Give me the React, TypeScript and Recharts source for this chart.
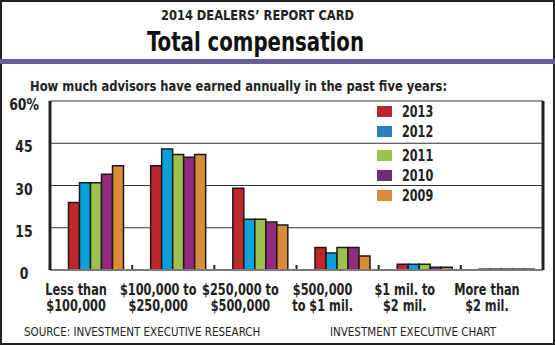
import { BarChart, Bar, XAxis, YAxis, CartesianGrid } from 'recharts'

const FONT = "'Liberation Sans Narrow', 'DejaVu Sans Condensed', 'Arial Narrow', sans-serif"

const categories = [
  'Less than\n$100,000',
  '$100,000 to\n$250,000',
  '$250,000 to\n$500,000',
  '$500,000\nto $1 mil.',
  '$1 mil. to\n$2 mil.',
  'More than\n$2 mil.',
]
const years = ['2013', '2012', '2011', '2010', '2009']
const v2013 = [24, 37, 29, 8, 2, 0.3]
const v2012 = [31, 43, 18, 6, 2, 0.3]
const v2011 = [31, 41, 18, 8, 2, 0.3]
const v2010 = [34, 40, 17, 8, 1, 0.3]
const v2009 = [37, 41, 16, 5, 1, 0.3]
const yTicks = [0, 15, 30, 45, 60]

const barColors = ['#c0272d', '#0ba0dc', '#9bc24c', '#922a80', '#d98b38']
const legendColors = ['#b8282f', '#2a80c0', '#9cc24e', '#6e2c7a', '#d88b3a']

const series = [v2013, v2012, v2011, v2010, v2009]
const data = categories.map((label, i) => {
  const row: Record<string, string | number> = { label }
  years.forEach((y, k) => {
    row[y] = series[k][i]
  })
  return row
})

// squeezed text: the original uses a condensed face we don't have
function NText({
  x,
  y,
  s = 0.85,
  anchor = 'start',
  size = 15,
  bold = true,
  children,
}: {
  x: number
  y: number
  s?: number
  anchor?: 'start' | 'middle' | 'end'
  size?: number
  bold?: boolean
  children: React.ReactNode
}) {
  return (
    <text
      transform={`translate(${x},${y}) scale(${s},1)`}
      textAnchor={anchor}
      fontFamily={FONT}
      fontWeight={bold ? 'bold' : 'normal'}
      fontSize={size}
      fill="#222"
    >
      {children}
    </text>
  )
}

// eslint-disable-next-line @typescript-eslint/no-explicit-any
function XTick({ x, y, payload }: any) {
  const lines = String(payload.value).split('\n')
  const idx = payload.index ?? categories.indexOf(payload.value)
  const half = payload.offset ?? 41
  return (
    <g>
      {idx < categories.length - 1 && (
        <rect x={x + half - 1} y={y - 5} width={2} height={4} fill="#222" />
      )}
      {lines.map((l, i) => (
        <NText key={i} x={x - 15} y={y + 25 + i * 16} anchor="middle" s={0.84}>
          {l}
        </NText>
      ))}
    </g>
  )
}

// eslint-disable-next-line @typescript-eslint/no-explicit-any
function YTick({ x, y, payload }: any) {
  return (
    <NText x={x - 26} y={y + 9} anchor="middle" s={0.92}>
      {payload.value === 60 ? '60%' : payload.value}
    </NText>
  )
}

export default function App() {
  return (
    <div style={{ position: 'absolute', left: 0, top: 0, width: 555, height: 345, background: '#fff' }}>
      <BarChart
        width={555}
        height={345}
        data={data}
        margin={{ top: 101, right: 0, left: 0, bottom: 25 }}
        barCategoryGap={7.5}
        barGap={0}
      >
        <CartesianGrid yAxisId="left" vertical={false} stroke="#333" strokeWidth={1.2} />
        <XAxis
          dataKey="label"
          interval={0}
          height={50}
          tickSize={0}
          tickMargin={0}
          tickLine={false}
          axisLine={{ stroke: '#7a7a7a', strokeWidth: 2 }}
          tick={<XTick />}
        />
        <YAxis
          yAxisId="left"
          domain={[0, 60]}
          ticks={yTicks}
          width={50}
          tickSize={0}
          tickMargin={0}
          tickLine={false}
          axisLine={{ stroke: '#222', strokeWidth: 3 }}
          tick={<YTick />}
        />
        <YAxis
          yAxisId="right"
          orientation="right"
          domain={[0, 60]}
          ticks={yTicks}
          width={12}
          tick={false}
          tickLine={false}
          axisLine={{ stroke: '#222', strokeWidth: 3 }}
        />
        {/* empty slot so the bars sit right of centre, as in the original */}
        <Bar yAxisId="left" dataKey="spacer" fill="none" isAnimationActive={false} />
        {years.map((y, k) => (
          <Bar
            key={y}
            yAxisId="left"
            dataKey={y}
            fill={barColors[k]}
            stroke="#1a1a1a"
            strokeWidth={1.5}
            isAnimationActive={false}
          />
        ))}
      </BarChart>
      <svg
        width={555}
        height={345}
        style={{ position: 'absolute', left: 0, top: 0, pointerEvents: 'none' }}
        fontFamily={FONT}
      >
        <rect x={1} y={1} width={553} height={343} fill="none" stroke="#222" strokeWidth={2} />
        <rect x={0} y={59} width={555} height={5} fill="#675d9a" />
        <text
          x={161}
          y={19.5}
          textLength={193}
          lengthAdjust="spacingAndGlyphs"
          fontWeight="bold"
          fontSize={14}
          fill="#222"
        >
          2014 DEALERS’ REPORT CARD
        </text>
        <text
          x={147}
          y={51}
          textLength={217}
          lengthAdjust="spacingAndGlyphs"
          fontWeight="bold"
          fontSize={26}
          fill="#111"
        >
          Total compensation
        </text>
        <text
          x={30}
          y={90.5}
          textLength={417}
          lengthAdjust="spacingAndGlyphs"
          fontWeight="bold"
          fontSize={14}
          fill="#222"
        >
          How much advisors have earned annually in the past five years:
        </text>
        {years.map((y, k) => {
          const top = 106 + k * 20 + (k >= 2 ? 4 : 0)
          return (
            <g key={y}>
              <rect x={377} y={top} width={15} height={11} fill={legendColors[k]} />
              <NText x={402} y={top + 11} size={16} s={0.78}>
                {y}
              </NText>
            </g>
          )
        })}
        <text x={24} y={336} fontSize={11.5} fill="#222">
          SOURCE: INVESTMENT EXECUTIVE RESEARCH
        </text>
        <text x={496} y={336} textAnchor="end" fontSize={11.5} fill="#222">
          INVESTMENT EXECUTIVE CHART
        </text>
      </svg>
    </div>
  )
}
